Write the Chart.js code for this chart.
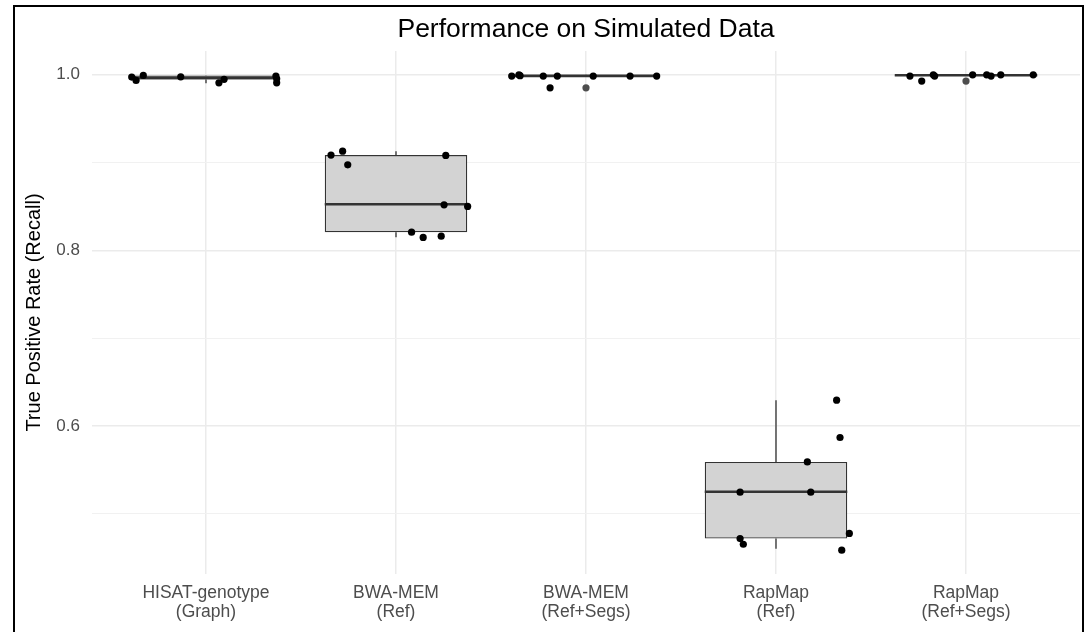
<!DOCTYPE html>
<html>
<head>
<meta charset="utf-8">
<title>Performance on Simulated Data</title>
<script src="https://cdn.jsdelivr.net/npm/chart.js@4"></script>
<style>
  body { margin: 0; background: #fff; }
  #wrap { position: relative; width: 1085px; height: 632px; overflow: hidden; }
  #frame { position: absolute; left: 13px; top: 5px; width: 1067px; height: 640px; border: 2px solid #000; border-bottom: none; pointer-events: none; }
</style>
</head>
<body>
<div id="wrap">
  <canvas id="myChart" width="1085" height="632"></canvas>
  <div id="frame"></div>
</div>
<script>
const categories = [['HISAT-genotype', '(Graph)'], ['BWA-MEM', '(Ref)'], ['BWA-MEM', '(Ref+Segs)'], ['RapMap', '(Ref)'], ['RapMap', '(Ref+Segs)']];

// box statistics per method
const whiskerLow = [0.9905, 0.8150, 0.9980, 0.4600, 0.9985];
const boxQ1 = [0.9945, 0.8207, 0.9982, 0.4717, 0.9988];
const boxMedian = [0.9965, 0.8526, 0.9988, 0.5250, 0.9995];
const boxQ3 = [0.9992, 0.9085, 0.9992, 0.5590, 1.0000];
const whiskerHigh = [0.9995, 0.9130, 1.0000, 0.6293, 1.0000];

// jittered points (offset from category centre, recall)
const hisatJitter = [-0.391, -0.368, -0.330, -0.133, 0.068, 0.095, 0.368, 0.372, 0.372];
const hisatRecall = [0.9974, 0.9936, 0.9993, 0.9977, 0.9909, 0.9948, 0.9985, 0.9954, 0.9909];
const bwaRefJitter = [-0.342, -0.281, -0.254, 0.262, 0.253, 0.377, 0.082, 0.143, 0.238];
const bwaRefRecall = [0.9085, 0.9130, 0.8974, 0.9081, 0.8519, 0.8500, 0.8207, 0.8147, 0.8162];
const bwaSegsJitter = [-0.391, -0.353, -0.347, -0.225, -0.151, -0.189, 0.038, 0.232, 0.372];
const bwaSegsRecall = [0.9985, 1.0000, 0.9990, 0.9985, 0.9985, 0.9852, 0.9985, 0.9985, 0.9985];
const rapRefJitter = [0.319, 0.337, 0.165, -0.189, 0.183, -0.189, -0.172, 0.386, 0.346];
const rapRefRecall = [0.6293, 0.5868, 0.5590, 0.5245, 0.5245, 0.4717, 0.4652, 0.4775, 0.4584];
const rapSegsJitter = [-0.295, -0.233, -0.172, -0.165, 0.035, 0.109, 0.132, 0.183, 0.354];
const rapSegsRecall = [0.9985, 0.9928, 1.0000, 0.9985, 1.0000, 1.0000, 0.9985, 1.0000, 1.0000];

// outliers drawn by the boxplot itself (at the category centre)
const outlierCategory = [3, 5];
const outlierRecall = [0.9852, 0.9928];

const yMajorTicks = [0.6, 0.8, 1.0];
const yGridValues = [0.5, 0.6, 0.7, 0.8, 0.9, 1.0];
const yMin = 0.4313;
const yMax = 1.0271;

const FONT = "'Liberation Sans', Arial, sans-serif";
Chart.defaults.font.family = FONT;

const jitterGroups = [
  [hisatJitter, hisatRecall],
  [bwaRefJitter, bwaRefRecall],
  [bwaSegsJitter, bwaSegsRecall],
  [rapRefJitter, rapRefRecall],
  [rapSegsJitter, rapSegsRecall],
];

const jitterPoints = [];
jitterGroups.forEach(([jit, rec], i) => {
  jit.forEach((j, k) => jitterPoints.push({ x: i + 1 + j, y: rec[k] }));
});

const boxPlotLines = {
  id: 'boxPlotLines',
  beforeDatasetsDraw(chart) {
    const { ctx, scales: { x, y } } = chart;
    ctx.save();
    ctx.strokeStyle = '#333333';
    ctx.lineWidth = 1.3;
    ctx.beginPath();
    categories.forEach((c, i) => {
      const px = x.getPixelForValue(i + 1);
      ctx.moveTo(px, y.getPixelForValue(whiskerHigh[i]));
      ctx.lineTo(px, y.getPixelForValue(boxQ3[i]));
      ctx.moveTo(px, y.getPixelForValue(boxQ1[i]));
      ctx.lineTo(px, y.getPixelForValue(whiskerLow[i]));
    });
    ctx.stroke();
    ctx.restore();
  },
  afterDatasetDraw(chart, args) {
    if (args.index !== 0) {
      return;
    }
    const { ctx, scales: { y } } = chart;
    ctx.save();
    ctx.strokeStyle = '#333333';
    ctx.lineWidth = 2.6;
    args.meta.data.forEach((bar, i) => {
      const py = y.getPixelForValue(boxMedian[i]);
      ctx.beginPath();
      ctx.moveTo(bar.x - bar.width / 2, py);
      ctx.lineTo(bar.x + bar.width / 2, py);
      ctx.stroke();
    });
    ctx.restore();
  },
  afterDraw(chart) {
    const { ctx, chartArea } = chart;
    ctx.save();
    ctx.fillStyle = '#000';
    ctx.font = '26.5px ' + FONT;
    ctx.textAlign = 'center';
    ctx.textBaseline = 'middle';
    ctx.fillText('Performance on Simulated Data', (chartArea.left + chartArea.right) / 2, 30);
    ctx.restore();
  }
};

const ctx = document.getElementById('myChart').getContext('2d');

const myChart = new Chart(ctx, {
  type: 'bar',
  data: {
    datasets: [
      {
        type: 'bar',
        label: 'box',
        data: categories.map((c, i) => ({ x: i + 1, y: [boxQ1[i], boxQ3[i]] })),
        backgroundColor: '#d3d3d3',
        borderColor: '#333333',
        borderWidth: 1.3,
        borderSkipped: false,
        barPercentage: 0.75,
        categoryPercentage: 1.0,
        order: 3,
      },
      {
        type: 'scatter',
        label: 'outliers',
        data: outlierCategory.map((c, i) => ({ x: c, y: outlierRecall[i] })),
        backgroundColor: '#4d4d4d',
        borderWidth: 0,
        pointRadius: 3.6,
        order: 2,
      },
      {
        type: 'scatter',
        label: 'runs',
        data: jitterPoints,
        backgroundColor: '#000000',
        borderWidth: 0,
        pointRadius: 3.6,
        order: 1,
      },
    ],
  },
  plugins: [boxPlotLines],
  options: {
    responsive: false,
    animation: false,
    devicePixelRatio: 1,
    layout: { padding: { top: 51, right: 5, left: 0, bottom: 0 } },
    plugins: {
      legend: { display: false },
      tooltip: { enabled: false },
      title: { display: false },
    },
    scales: {
      x: {
        type: 'linear',
        min: 0.4,
        max: 5.6,
        offset: false,
        afterBuildTicks: (scale) => {
          scale.ticks = categories.map((c, i) => ({ value: i + 1 }));
        },
        afterFit: (scale) => {
          scale.height = 58;
        },
        ticks: {
          callback: (value, index) => categories[index],
          color: '#4d4d4d',
          font: { size: 17.5, lineHeight: 1.12 },
          padding: 9,
          maxRotation: 0,
          autoSkip: false,
        },
        grid: { color: '#ebebeb', lineWidth: 1.5, drawTicks: false, offset: false },
        border: { display: false },
      },
      y: {
        type: 'linear',
        min: yMin,
        max: yMax,
        afterBuildTicks: (scale) => {
          scale.ticks = yGridValues.map((v) => ({ value: v }));
        },
        afterFit: (scale) => {
          scale.width = 92;
        },
        ticks: {
          callback: (value) => (yMajorTicks.includes(value) ? value.toFixed(1) : ''),
          color: '#4d4d4d',
          font: { size: 17 },
          padding: 12,
        },
        grid: {
          color: (c) => (c.tick && yMajorTicks.includes(c.tick.value) ? '#ebebeb' : '#f1f1f1'),
          lineWidth: (c) => (c.tick && yMajorTicks.includes(c.tick.value) ? 1.5 : 1),
          drawTicks: false,
        },
        border: { display: false },
        title: {
          display: true,
          text: 'True Positive Rate (Recall)',
          color: '#000',
          font: { size: 20 },
          padding: { top: 22, bottom: 0 },
        },
      },
    },
  },
});
</script>
</body>
</html>
